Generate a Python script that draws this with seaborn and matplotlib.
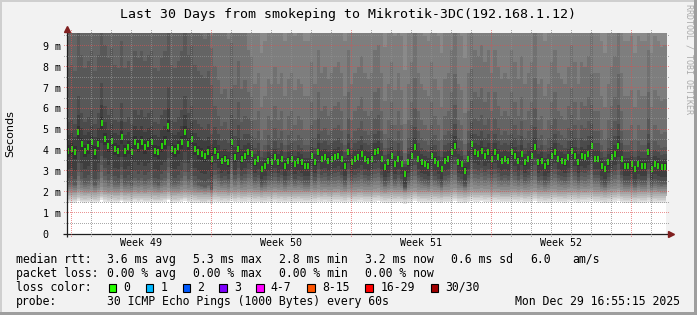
import numpy as np
import matplotlib
matplotlib.use("Agg")
import matplotlib.pyplot as plt
from matplotlib.patches import Rectangle
import seaborn as sns

# ---------------- data ----------------
title = "Last 30 Days from smokeping to Mikrotik-3DC(192.168.1.12)"

# median rtt (ms), one value every 4 hours over the 30 days
median_ms = [
    3.97, 4.05, 3.89, 4.85, 4.29, 3.97, 4.13, 4.37, 3.89, 4.29,
    5.30, 4.53, 4.21, 4.45, 4.05, 3.97, 4.61, 3.97, 4.13, 3.89,
    4.37, 4.21, 4.37, 4.13, 4.29, 4.37, 3.97, 3.89, 4.21, 4.37,
    5.17, 4.05, 3.97, 4.13, 4.37, 4.85, 4.29, 4.53, 4.05, 3.89,
    3.81, 3.73, 3.89, 3.57, 3.97, 3.73, 3.49, 3.57, 3.41, 4.37,
    3.65, 4.05, 3.57, 3.73, 3.89, 3.81, 3.41, 3.57, 3.09, 3.25,
    3.49, 3.41, 3.65, 3.41, 3.57, 3.25, 3.49, 3.57, 3.33, 3.49,
    3.41, 3.25, 3.25, 3.73, 3.41, 3.89, 3.57, 3.65, 3.49, 3.57,
    3.65, 3.73, 3.57, 3.25, 3.89,
    3.41, 3.57, 3.65, 3.81, 3.57, 3.49, 3.57, 3.89, 3.97, 3.57,
    3.17, 3.41, 3.73, 3.33, 3.57, 3.33, 2.85, 3.41, 3.73, 4.13,
    3.57, 3.41, 3.33, 3.25, 3.73, 3.49, 3.33, 3.09, 3.49, 3.57,
    3.89, 4.21, 3.41, 3.33, 3.01, 3.57, 4.29, 3.89, 3.81, 3.97,
    3.73, 3.89, 3.57, 3.89, 3.65, 3.49, 3.57, 3.49, 3.89, 3.73,
    3.49, 3.81, 3.41, 3.57, 3.73, 4.13, 3.41, 3.49, 3.25, 3.41,
    3.73, 3.89, 3.57, 3.49, 3.41, 3.65, 3.97, 3.73, 3.41, 3.73,
    3.65, 3.81, 4.21, 3.57, 3.57, 3.25, 3.09, 3.41, 3.65, 3.81,
    4.21, 3.57, 3.25, 3.25, 3.33, 3.09, 3.33, 3.25, 3.25, 3.89,
    3.09, 3.33, 3.25, 3.17, 3.20,
]
samples_per_day = 6

# sorted 30-ping rtt profiles (ms) for the periods seen in the smoke
early_pings = [1.48, 1.55, 1.60, 1.68, 1.78, 1.86, 1.94, 2.02, 2.12, 2.22,
               2.32, 2.42, 2.70, 3.10, 3.70, 4.30, 4.75, 5.40, 8.00, 10.1,
               11.0, 12.0, 13.0, 14.0, 15.0, 16.0, 17.0, 18.0, 19.0, 20.0]
mid_pings = [1.49, 1.57, 1.64, 1.72, 1.80, 1.89, 1.98, 2.08, 2.20, 2.32,
             2.45, 2.58, 2.76, 3.02, 3.40, 3.80, 4.10, 4.60, 5.40, 7.00,
             10.0, 11.0, 12.0, 13.0, 14.0, 15.0, 16.0, 17.0, 18.0, 19.0]
late_pings = [1.50, 1.58, 1.66, 1.74, 1.82, 1.91, 2.00, 2.10, 2.22, 2.35,
              2.48, 2.62, 2.80, 3.05, 3.38, 3.70, 3.95, 4.30, 4.85, 5.80,
              7.60, 10.2, 11.0, 12.0, 13.0, 14.0, 15.0, 16.0, 17.0, 18.0]
period_starts = [0.0, 7.3, 9.0]
# how strongly each ranked ping moves with the median deviation
follow_median = [0.1, 0.1, 0.1, 0.1, 0.1, 0.1, 0.1, 0.15, 0.25, 0.35, 0.5, 0.65,
                 0.8, 0.95, 1.0,
                 1.0, 1.1, 1.4, 2.0, 2.8, 3.4, 3.4, 0, 0, 0, 0, 0, 0, 0, 0]

y_ticks = [0, 1, 2, 3, 4, 5, 6, 7, 8, 9]
y_tick_labels = ["0", "1 m", "2 m", "3 m", "4 m", "5 m", "6 m", "7 m", "8 m", "9 m"]
week_labels = ["Week 49", "Week 50", "Week 51", "Week 52"]
week_label_days = [3.75, 10.75, 17.75, 24.75]
major_grid_days = [0.25, 7.25, 14.25, 21.25, 28.25]

legend_rows = [
    [(16, "median rtt:"), (107.3, "3.6 ms avg"), (193.3, "5.3 ms max"),
     (279.3, "2.8 ms min"), (365, "3.2 ms now"), (451, "0.6 ms sd"),
     (530, "6.0"), (572.3, "am/s")],
    [(16, "packet loss:"), (107.3, "0.00 % avg"), (193.3, "0.00 % max"),
     (279.3, "0.00 % min"), (365, "0.00 % now")],
    [(16, "loss color:")],
    [(16, "probe:"), (107.3, "30 ICMP Echo Pings (1000 Bytes) every 60s")],
]
loss_labels = ["0", "1", "2", "3", "4-7", "8-15", "16-29", "30/30"]
loss_colors = ["#26ff00", "#00b8ff", "#0059ff", "#7e00ff", "#ff00ff",
               "#ff5500", "#ff0000", "#a00000"]
loss_box_x = [108.7, 145.7, 182.7, 219.3, 256.0, 307.3, 365.0, 430.7]
loss_text_x = [123.3, 160.7, 197.3, 234.0, 270.7, 322.0, 380.7, 445.7]
timestamp = "Mon Dec 29 16:55:15 2025"

# ---------------- layout ----------------
W, H = 697, 315
PX_PER_MS = 20.84
PX_PER_DAY = 20.0
AX_L, AX_R = 66.5, 665.5
AX_B, AX_T = 233.5, 32.7
YMAX = (AX_B - AX_T) / PX_PER_MS
XMAX = (AX_R - AX_L) / PX_PER_DAY
Y0_DISP = H - AX_B          # display y (from bottom) of value 0

sns.set_theme(style="white")
plt.rcParams["font.family"] = ["DejaVu Sans Mono", "DejaVu Sans"]

fig = plt.figure(figsize=(W / 100, H / 100), dpi=100, facecolor="#F2F2F2")


def fx(px):
    return px / W


def fy(py):
    return 1 - py / H


# 3D frame
fig.patches.append(Rectangle((0, fy(2)), 1, 2 / H, transform=fig.transFigure, color="#CFCFCF", lw=0))
fig.patches.append(Rectangle((0, 0), 2 / W, 1, transform=fig.transFigure, color="#CFCFCF", lw=0))
fig.patches.append(Rectangle((0, 0), 1, 3 / H, transform=fig.transFigure, color="#9E9E9E", lw=0))
fig.patches.append(Rectangle((fx(W - 3), 0), 3 / W, 1, transform=fig.transFigure, color="#9E9E9E", lw=0))

ax = fig.add_axes([fx(AX_L), fy(AX_B), (AX_R - AX_L) / W, (AX_B - AX_T) / H])
ax.set_facecolor("white")
ax.set_xlim(0, XMAX)
ax.set_ylim(0, YMAX)
for s in ax.spines.values():
    s.set_visible(False)
ax.set_xticks([])
ax.set_yticks([])

# ---------------- smoke ----------------
med = np.array(median_ms)
n = len(med)
days = np.arange(n) / samples_per_day
edges = np.append(days, XMAX + 0.1)
w = np.array(follow_median)
profiles = [np.array(early_pings), np.array(mid_pings), np.array(late_pings)]
pings = np.empty((30, n))
for k in range(n):
    p_idx = int(np.searchsorted(period_starts, days[k], side="right")) - 1
    prof = profiles[p_idx]
    pm = (prof[14] + prof[15]) / 2
    pings[:, k] = np.sort(prof + w * (med[k] - pm))

for i in range(15):
    g = (int(190 / 15 * (15 - (i + 1))) + 50) / 255
    lo = np.append(pings[i], pings[i][-1])
    hi = np.append(pings[29 - i], pings[29 - i][-1])
    ax.fill_between(edges, lo, hi, step="post", color=(g, g, g), lw=0,
                    zorder=1, antialiased=False)

# ---------------- median ----------------
sns.scatterplot(x=days + 0.5 / samples_per_day, y=med, marker="|", s=14,
                linewidth=1.1, color="#26ff00", ax=ax, zorder=5, legend=False)

# ---------------- axes + arrows ----------------
ax.plot([-4.0 / PX_PER_DAY, XMAX + 0.2], [0, 0], color="#1f1f1f", lw=0.9,
        clip_on=False, zorder=6, solid_capstyle="butt")
ax.plot([0, 0], [-3.0 / PX_PER_MS, YMAX + 0.15], color="#1f1f1f", lw=0.9,
        clip_on=False, zorder=6, solid_capstyle="butt")
ax.plot([XMAX + 0.25], [0], marker=">", ms=4.5, color="#801f1f", mec="#801f1f",
        clip_on=False, zorder=7)
ax.plot([0], [YMAX + 0.18], marker="^", ms=4.5, color="#801f1f", mec="#801f1f",
        clip_on=False, zorder=7)

# ---------------- grid: 1 px dots, pixel exact overlay ----------------
grid = np.zeros((H, W, 4))
minor_rgba = (0x8f / 255, 0x8f / 255, 0x8f / 255, 0.75)
major_rgba = (0xDE / 255, 0x4F / 255, 0x4F / 255, 0.6)
cols = np.arange(64, 669, 2)
rows = np.arange(30, 238, 2)


def row_of(v):
    return int(np.floor(H - (Y0_DISP + v * PX_PER_MS)))


def col_of(d):
    return int(np.floor(AX_L + d * PX_PER_DAY))


for v in range(10):
    if v + 0.5 < YMAX:
        grid[row_of(v + 0.5), cols] = minor_rgba
for d in range(30):
    day = 0.25 + d
    if day < XMAX and day not in major_grid_days:
        grid[rows, col_of(day)] = minor_rgba
for v in y_ticks[1:]:
    grid[row_of(v), cols] = major_rgba
for day in major_grid_days:
    grid[rows, col_of(day)] = major_rgba
fig.figimage(grid, xo=0, yo=0, origin="upper", zorder=4)

# ---------------- texts ----------------
fig.text(fx(348.5), fy(18.3), title, ha="center", va="baseline", fontsize=9.5,
         color="black")
for v, lab in zip(y_ticks, y_tick_labels):
    fig.text(fx(42.7), fy(AX_B - v * PX_PER_MS + 4), lab, ha="left", va="baseline",
             fontsize=7.2, color="black")
for d, lab in zip(week_label_days, week_labels):
    fig.text(fx(AX_L + d * PX_PER_DAY), fy(246), lab, ha="center", va="baseline",
             fontsize=7.2, color="black")
fig.text(fx(10.5), fy(133.5), "Seconds", rotation=90, ha="center", va="center",
         fontsize=8, family="DejaVu Sans", color="black")
fig.text(fx(688.5), fy(4), "RRDTOOL / TOBI OETIKER", rotation=270, ha="center",
         va="top", fontsize=6, color="#ababab")

baselines = [262.7, 276.7, 290.7, 304.7]
for row, base in zip(legend_rows, baselines):
    for x, t in row:
        fig.text(fx(x), fy(base), t, ha="left", va="baseline", fontsize=8.3,
                 color="black")
for bx, tx, lab, col in zip(loss_box_x, loss_text_x, loss_labels, loss_colors):
    fig.patches.append(Rectangle((fx(bx), fy(291.5)), 7.5 / W, 8 / H,
                                 transform=fig.transFigure, facecolor=col,
                                 edgecolor="black", lw=0.8))
    fig.text(fx(tx), fy(290.7), lab, ha="left", va="baseline", fontsize=8.3,
             color="black")
fig.text(fx(680), fy(304.7), timestamp, ha="right", va="baseline", fontsize=8.3,
         color="black")

fig.savefig("out.png", dpi=100, facecolor=fig.get_facecolor())
